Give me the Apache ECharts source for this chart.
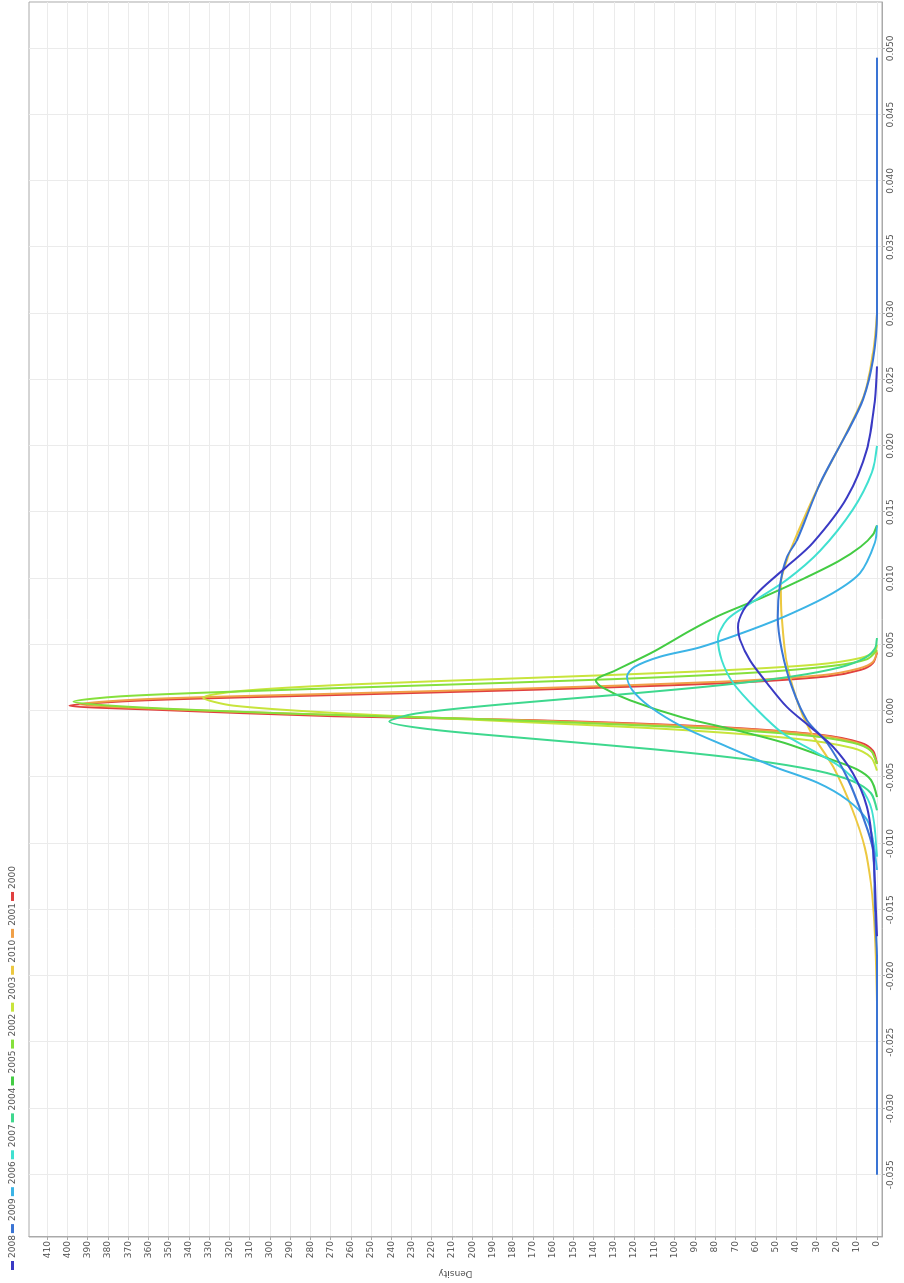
<!DOCTYPE html>
<html>
<head>
<meta charset="utf-8">
<script src="https://cdn.jsdelivr.net/npm/echarts@6/dist/echarts.min.js"></script>
<style>
html,body{margin:0;padding:0;background:#fff;overflow:hidden;width:904px;height:1283px;}
#c{position:absolute;left:0;top:0;width:1283px;height:904px;transform-origin:0 0;transform:translate(0,1283px) rotate(-90deg);}
</style>
</head>
<body>
<div id="c"></div>
<script>
// Legend order (as shown) and colours
const years = ['2008','2009','2006','2007','2004','2005','2002','2003','2010','2001','2000'];
const colors = {
  '2008':'#3a3ac4','2009':'#3a74d4','2006':'#3cb4e6','2007':'#40e0d0','2004':'#3ed88e',
  '2005':'#44cc44','2002':'#86e03c','2003':'#c8e43c','2010':'#ecc840','2001':'#f0a048','2000':'#e04040'
};
// Tick labels
const valueTicks = [-0.035,-0.030,-0.025,-0.020,-0.015,-0.010,-0.005,0.000,0.005,0.010,0.015,0.020,0.025,0.030,0.035,0.040,0.045,0.050];
const densityTicks = [0,10,20,30,40,50,60,70,80,90,100,110,120,130,140,150,160,170,180,190,200,210,220,230,240,250,260,270,280,290,300,310,320,330,340,350,360,370,380,390,400,410];

// Density curves: [value, density]
const d2000 = [[-0.0040,0],[-0.0030,2],[-0.0024,8],[-0.0018,28],[-0.0012,80],[-0.0007,170],[-0.0004,268],[0.0001,358],[0.0004,399],[0.0008,362],[0.0012,268],[0.0016,170],[0.0021,75],[0.0026,25],[0.0031,8],[0.0036,2],[0.0044,0]];
const d2001 = [[-0.0040,0],[-0.0030,3],[-0.0024,10],[-0.0018,30],[-0.0012,85],[-0.0007,175],[-0.0003,270],[0.0002,362],[0.0005,394],[0.0009,360],[0.0013,268],[0.0017,172],[0.0022,78],[0.0027,27],[0.0032,9],[0.0037,2],[0.0045,0]];
const d2002 = [[-0.0040,0],[-0.0030,3],[-0.0024,12],[-0.0018,38],[-0.0012,100],[-0.0006,200],[-0.0002,290],[0.0003,368],[0.0007,397],[0.0011,374],[0.0015,310],[0.0019,230],[0.0024,130],[0.0029,60],[0.0034,22],[0.0039,5],[0.0046,0]];
const d2003 = [[-0.0045,0],[-0.0035,3],[-0.0028,12],[-0.0021,40],[-0.0014,100],[-0.0008,180],[-0.0002,262],[0.0004,318],[0.0010,333],[0.0015,315],[0.0020,260],[0.0025,170],[0.0030,85],[0.0035,30],[0.0040,8],[0.0045,1],[0.0050,0]];
const d2004 = [[-0.0075,0],[-0.0062,3],[-0.0053,12],[-0.0045,30],[-0.0037,62],[-0.0029,110],[-0.0021,170],[-0.0014,220],[-0.0008,241],[-0.0002,228],[0.0005,185],[0.0012,130],[0.0019,80],[0.0026,42],[0.0033,18],[0.0040,6],[0.0047,1],[0.0055,0]];
const d2005 = [[-0.0065,0],[-0.0052,3],[-0.0044,10],[-0.0037,22],[-0.0024,46],[-0.0014,71],[-0.0005,96],[0.0008,122],[0.0018,136],[0.0023,139],[0.0030,130],[0.0045,110],[0.0060,93],[0.0072,78],[0.0086,56],[0.0100,36],[0.0113,19],[0.0124,8],[0.0133,2],[0.0140,0]];
const d2006 = [[-0.0120,0],[-0.0097,2],[-0.0082,5],[-0.0067,14.8],[-0.0054,29.6],[-0.0042,51],[-0.0027,74],[-0.0012,96],[0.0003,112],[0.0016,121],[0.0026,123.5],[0.0033,120],[0.0041,107],[0.0048,87.5],[0.0061,62.7],[0.0074,41.5],[0.0089,21.7],[0.0104,8.4],[0.0127,1],[0.0140,0]];
const d2007 = [[-0.0110,0],[-0.0075,2.5],[-0.0057,8.4],[-0.0042,18.3],[-0.0030,31.6],[-0.0017,46.4],[0.0001,59.3],[0.0021,71],[0.0038,76.6],[0.0054,78.5],[0.0069,74],[0.0081,62.7],[0.0099,44.5],[0.0121,28],[0.0152,11.9],[0.0180,2.5],[0.0200,0]];
const d2008 = [[-0.0170,0],[-0.0130,1],[-0.0103,2],[-0.0072,5],[-0.0047,11.9],[-0.0027,21.7],[-0.0012,33],[0.0003,44.5],[0.0021,54.3],[0.0038,62.7],[0.0054,67.7],[0.0063,68.7],[0.0076,66],[0.0091,57.8],[0.0109,44.5],[0.0127,31.6],[0.0161,14.8],[0.0197,5],[0.0235,1],[0.0260,0]];
const d2009 = [[-0.0350,0],[-0.0190,0],[-0.0150,1],[-0.0105,2],[-0.0080,6.9],[-0.0050,14.8],[-0.0024,24.7],[-0.0007,34.6],[0.0018,42],[0.0046,47],[0.0071,49],[0.0094,48],[0.0116,44.5],[0.0129,39.5],[0.0172,28],[0.0210,14.8],[0.0235,6.9],[0.0265,2],[0.0300,0],[0.0493,0]];
const d2010 = [[-0.0220,0],[-0.0170,1],[-0.0130,3],[-0.0103,6],[-0.0075,12],[-0.0042,21.7],[-0.0015,33],[0.0008,39.5],[0.0040,45],[0.0070,47],[0.0095,47.5],[0.0116,44],[0.0135,39],[0.0172,28],[0.0210,15],[0.0240,6],[0.0270,2],[0.0300,0]];

const seriesData = {'2000':d2000,'2001':d2001,'2002':d2002,'2003':d2003,'2004':d2004,'2005':d2005,'2006':d2006,'2007':d2007,'2008':d2008,'2009':d2009,'2010':d2010};

const drawOrder = years.slice().reverse();
const font = 'DejaVu Sans';
const chart = echarts.init(document.getElementById('c'), null, {renderer:'canvas'});
chart.setOption({
  animation:false,
  backgroundColor:'#fff',
  textStyle:{fontFamily:font},
  legend:{
    data:years, left:8, top:3, icon:'rect', itemWidth:9, itemHeight:3, itemGap:2,
    textStyle:{fontSize:9, color:'#555', fontFamily:font, padding:[0,0,0,-2]}
  },
  grid:{left:46, right:2, top:29, bottom:22, show:true, borderColor:'#aaa', borderWidth:1, containLabel:false, outerBoundsMode:'none'},
  xAxis:{
    type:'value', min:-0.0397, max:0.0535,
    name:'value', nameLocation:'middle', nameGap:26, nameTextStyle:{fontSize:9,color:'#555'},
    axisLine:{show:true, onZero:false, lineStyle:{color:'#aaa'}},
    axisTick:{show:true, customValues:valueTicks, length:3, lineStyle:{color:'#aaa'}},
    axisLabel:{customValues:valueTicks, formatter:v=>v.toFixed(3), fontSize:9, color:'#555', margin:4},
    splitLine:{show:true, lineStyle:{color:'#ebebeb'}}
  },
  yAxis:{
    type:'value', min:-2.5, max:419,
    name:'Density', nameLocation:'middle', nameGap:30, nameTextStyle:{fontSize:9,color:'#555'},
    axisLine:{show:true, onZero:false, lineStyle:{color:'#aaa'}},
    axisTick:{show:true, customValues:densityTicks, length:3, lineStyle:{color:'#aaa'}},
    axisLabel:{customValues:densityTicks, fontSize:9, color:'#555', margin:4},
    splitLine:{show:true, lineStyle:{color:'#ebebeb'}}
  },
  series: drawOrder.map(y=>({
    name:y, type:'line', data:seriesData[y], symbol:'none', smooth:0.3,
    lineStyle:{width:2, color:colors[y]}, itemStyle:{color:colors[y]}
  }))
});
</script>
</body>
</html>
